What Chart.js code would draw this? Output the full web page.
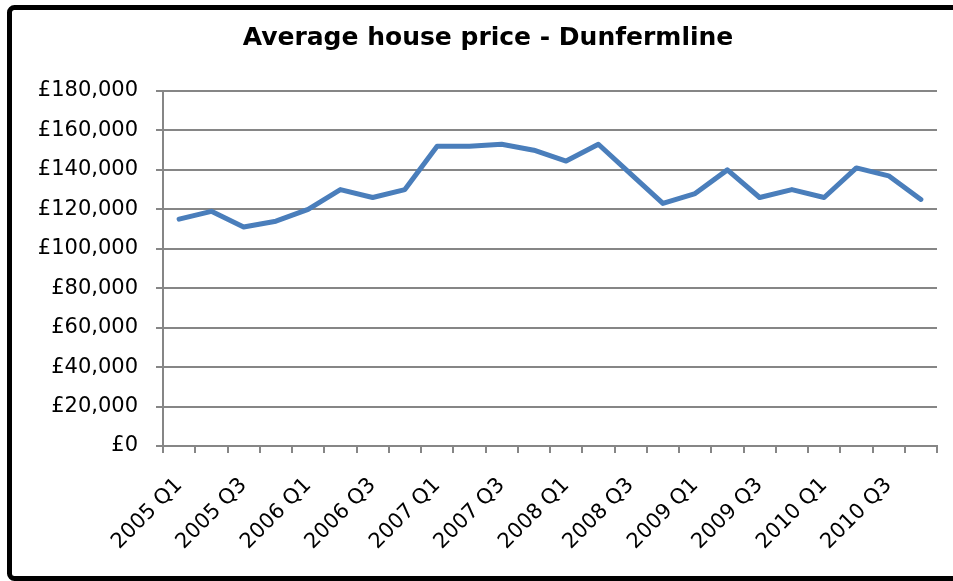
<!DOCTYPE html>
<html>
<head>
    <meta charset="utf-8">
    <title>Average house price - Dunfermline</title>
    <script src="https://cdn.jsdelivr.net/npm/chart.js"></script>
    <style>
        html, body {
            margin: 0;
            padding: 0;
            width: 953px;
            height: 581px;
            overflow: hidden;
            background: #fff;
        }
        #wrap {
            position: absolute;
            left: 0;
            top: 0;
            width: 953px;
            height: 581px;
        }
    </style>
</head>
<body>
    <div id="wrap"><canvas id="priceChart"></canvas></div>

    <script>
    const quarters = [
        '2005 Q1', '2005 Q2', '2005 Q3', '2005 Q4',
        '2006 Q1', '2006 Q2', '2006 Q3', '2006 Q4',
        '2007 Q1', '2007 Q2', '2007 Q3', '2007 Q4',
        '2008 Q1', '2008 Q2', '2008 Q3', '2008 Q4',
        '2009 Q1', '2009 Q2', '2009 Q3', '2009 Q4',
        '2010 Q1', '2010 Q2', '2010 Q3', '2010 Q4'
    ];
    const avgPrice = [
        115000, 119000, 111000, 114000,
        120000, 130000, 126000, 130000,
        152000, 152000, 153000, 150000,
        144500, 153000, 138000, 123000,
        128000, 140000, 126000, 130000,
        126000, 141000, 137000, 125000
    ];
    const yMax = 180000;
    const yStep = 20000;

    const grey = '#868686';
    const tickFont = { family: 'DejaVu Sans', size: 21 };

    // black frame: left, top and bottom sides only, the right side is off the page
    const framePlugin = {
        id: 'frame',
        beforeDraw(chart) {
            const ctx = chart.ctx;
            const far = chart.width + 20;
            ctx.save();
            ctx.fillStyle = '#fff';
            ctx.fillRect(0, 0, chart.width, chart.height);
            ctx.strokeStyle = '#000';
            ctx.lineWidth = 5;
            ctx.beginPath();
            ctx.moveTo(far, 7.5);
            ctx.arcTo(9.5, 7.5, 9.5, 578.5, 5);
            ctx.arcTo(9.5, 578.5, far, 578.5, 5);
            ctx.lineTo(far, 578.5);
            ctx.stroke();
            ctx.restore();
        }
    };

    new Chart(document.getElementById('priceChart'), {
        type: 'line',
        data: {
            labels: quarters,
            datasets: [{
                label: 'Average house price',
                data: avgPrice,
                borderColor: '#4a7ebb',
                borderWidth: 5,
                pointRadius: 0,
                tension: 0,
                borderCapStyle: 'round',
                borderJoinStyle: 'round'
            }]
        },
        plugins: [framePlugin],
        options: {
            responsive: true,
            maintainAspectRatio: false,
            animation: false,
            layout: {
                padding: { left: 39, right: 16, top: 10, bottom: 0 }
            },
            plugins: {
                legend: { display: false },
                tooltip: { enabled: false },
                title: {
                    display: true,
                    text: 'Average house price - Dunfermline',
                    color: '#000',
                    font: { family: 'DejaVu Sans', size: 25, weight: 'bold' },
                    padding: { top: 13, bottom: 38 }
                }
            },
            scales: {
                x: {
                    offset: true,
                    afterFit: s => {
                        s.height = 135;
                        s.paddingLeft = 0;
                        s.paddingRight = 0;
                    },
                    border: { color: grey, width: 2 },
                    grid: {
                        offset: true,
                        drawOnChartArea: false,
                        drawTicks: true,
                        tickLength: 7,
                        color: grey,
                        lineWidth: 2
                    },
                    ticks: {
                        autoSkip: false,
                        maxRotation: 45,
                        minRotation: 45,
                        padding: 20,
                        color: '#000',
                        font: tickFont,
                        callback: function(val, i) {
                            return i % 2 === 0 ? quarters[i] : '';
                        }
                    }
                },
                y: {
                    min: 0,
                    max: yMax,
                    afterFit: s => { s.width = 124; },
                    border: { color: grey, width: 2 },
                    grid: {
                        color: grey,
                        lineWidth: 2,
                        tickLength: 7
                    },
                    ticks: {
                        stepSize: yStep,
                        padding: 18,
                        color: '#000',
                        font: tickFont,
                        callback: v => '£' + v.toLocaleString('en-GB')
                    }
                }
            }
        }
    });
    </script>
</body>
</html>
